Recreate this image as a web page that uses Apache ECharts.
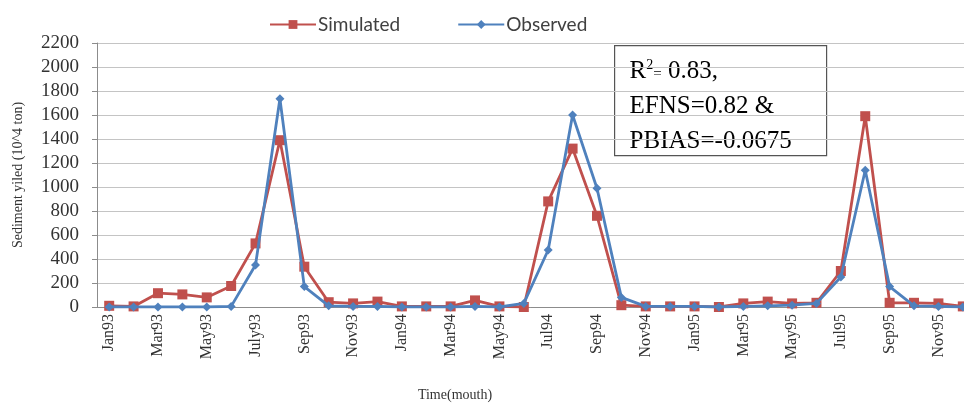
<!DOCTYPE html>
<html>
<head>
<meta charset="utf-8">
<script src="https://cdn.jsdelivr.net/npm/echarts@6/dist/echarts.min.js"></script>
<style>
  html, body { margin: 0; padding: 0; background: #fff; }
  #chart { width: 964px; height: 403px; }
</style>
</head>
<body>
<div id="chart"></div>
<script>
// Monthly categories, Jan 1993 - Dec 1995
const months = [
  'Jan93','Feb93','Mar93','Apr93','May93','Jun93','Jul93','Aug93','Sep93','Oct93','Nov93','Dec93',
  'Jan94','Feb94','Mar94','Apr94','May94','Jun94','Jul94','Aug94','Sep94','Oct94','Nov94','Dec94',
  'Jan95','Feb95','Mar95','Apr95','May95','Jun95','Jul95','Aug95','Sep95','Oct95','Nov95','Dec95'
];
// Axis labels shown under every second month
const tickLabels = {
  Jan93: 'Jan93', Mar93: 'Mar93', May93: 'May93', Jul93: 'July93', Sep93: 'Sep93', Nov93: 'Nov93',
  Jan94: 'Jan94', Mar94: 'Mar94', May94: 'May94', Jul94: 'Jul94', Sep94: 'Sep94', Nov94: 'Nov94',
  Jan95: 'Jan95', Mar95: 'Mar95', May95: 'May95', Jul95: 'Jul95', Sep95: 'Sep95', Nov95: 'Nov95'
};
// Sediment yield (10^4 ton)
const simulated = [
  10, 5, 115, 105, 80, 175, 530, 1390, 336, 40, 30, 45,
  5, 5, 5, 55, 5, 0, 880, 1320, 760, 15, 5, 5,
  5, 0, 30, 45, 30, 35, 300, 1590, 35, 35, 30, 5
];
const observed = [
  0, 0, 0, 0, 0, 5, 350, 1735, 170, 10, 5, 5,
  0, 0, 0, 5, 0, 30, 475, 1600, 990, 80, 5, 5,
  5, 0, 5, 10, 15, 30, 250, 1140, 170, 10, 5, 0
];
const yTicks = { min: 0, max: 2200, interval: 200 };

const serif = '"Liberation Serif", "Times New Roman", serif';
const chart = echarts.init(document.getElementById('chart'));

chart.setOption({
  animation: false,
  backgroundColor: '#ffffff',
  legend: {
    top: 10,
    left: 264,
    itemGap: 57,
    itemWidth: 46,
    itemHeight: 11,
    textStyle: { fontFamily: 'Lato, "Open Sans", sans-serif', fontSize: 19, color: '#404040', padding: [0, 0, 0, -3] },
    data: ['Simulated', 'Observed']
  },
  grid: { left: 97, top: 43, width: 878, height: 264, containLabel: false, outerBoundsMode: 'none' },
  xAxis: {
    type: 'category',
    data: months,
    boundaryGap: true,
    name: 'Time(mouth)',
    nameLocation: 'middle',
    nameGap: 81,
    nameTextStyle: { fontFamily: serif, fontSize: 14, color: '#333', padding: [0, 0, 0, -162] },
    axisLine: { show: true, lineStyle: { color: '#8c8c8c' } },
    axisTick: { show: false },
    axisLabel: {
      interval: 0,
      rotate: 90,
      margin: 7,
      fontFamily: serif,
      fontSize: 16,
      color: '#333',
      formatter: (v) => tickLabels[v] || ''
    },
    splitLine: { show: false }
  },
  yAxis: {
    type: 'value',
    min: yTicks.min,
    max: yTicks.max,
    interval: yTicks.interval,
    name: 'Sediment yiled (10^4 ton)',
    nameLocation: 'middle',
    nameGap: 72,
    nameTextStyle: { fontFamily: serif, fontSize: 14, color: '#333' },
    axisLine: { show: true, lineStyle: { color: '#8c8c8c' } },
    axisTick: { show: true, length: 5, lineStyle: { color: '#8c8c8c' } },
    axisLabel: { margin: 18, fontFamily: serif, fontSize: 19, color: '#333', formatter: (v) => String(v) },
    splitLine: { show: true, lineStyle: { color: '#c4c4c4', width: 1 } }
  },
  series: [
    {
      name: 'Simulated',
      type: 'line',
      data: simulated,
      symbol: 'rect',
      symbolSize: 10,
      lineStyle: { color: '#C0504D', width: 2.8 },
      itemStyle: { color: '#C0504D' },
      z: 2
    },
    {
      name: 'Observed',
      type: 'line',
      data: observed,
      symbol: 'diamond',
      symbolSize: 9,
      lineStyle: { color: '#4F81BD', width: 2.8 },
      itemStyle: { color: '#4F81BD' },
      z: 3
    }
  ],
  graphic: [
    {
      type: 'group',
      left: 614,
      top: 45,
      children: [
        {
          type: 'rect',
          shape: { x: 0, y: 0, width: 212, height: 110 },
          style: { fill: '#ffffff', stroke: '#555555', lineWidth: 1.2 }
        },
        {
          type: 'text',
          x: 15,
          y: 8,
          style: {
            text: '{n|R}{s|2}{e|=}{n| 0.83,}\n{n|EFNS=0.82 &}\n{n|PBIAS=-0.0675}',
            rich: {
              n: { fontFamily: serif, fontSize: 25, color: '#222', lineHeight: 35 },
              s: { fontFamily: serif, fontSize: 14, color: '#222', lineHeight: 35, padding: [0, 0, 12, 0] },
              e: { fontFamily: serif, fontSize: 15, color: '#222', lineHeight: 35, padding: [6, 0, 0, 0] }
            }
          }
        }
      ]
    }
  ]
});
</script>
</body>
</html>
